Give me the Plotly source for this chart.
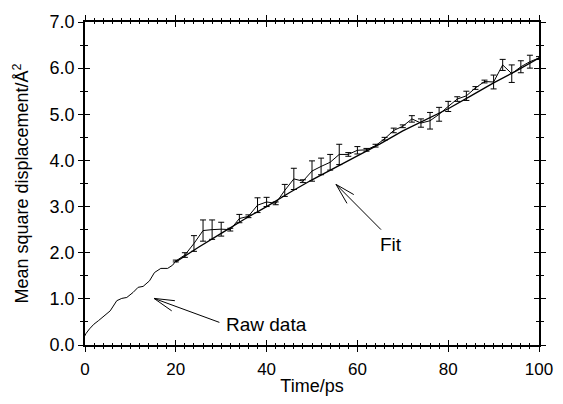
import plotly.graph_objects as go

# raw MSD curve before the fitting window (no error bars)
t_raw = [0, 0.15, 1.0, 1.95, 3.0, 4.1, 5.55, 7.0, 8.1, 9.2, 10.6, 11.7, 12.8,
         14.2, 15.3, 16.7, 18.2, 19.3, 20]
msd_raw = [0.2, 0.24, 0.35, 0.45, 0.53, 0.62, 0.74, 0.96, 1.01, 1.03, 1.14, 1.25,
           1.27, 1.39, 1.57, 1.66, 1.66, 1.73, 1.82]

# raw data inside the fitting window, with error bars
t_err = [20, 22, 24, 26, 28, 30, 32, 34, 36, 38, 40, 42, 44, 46, 48, 50, 52, 54, 56,
         58, 60, 62, 64, 66, 68, 70, 72, 74, 76, 78, 80, 82, 84, 86, 88, 90, 92, 94,
         96, 98, 100]
msd_err = [1.82, 1.95, 2.2, 2.48, 2.5, 2.51, 2.5, 2.74, 2.79, 3.03, 3.1, 3.07, 3.35,
           3.6, 3.55, 3.77, 3.87, 3.96, 4.13, 4.13, 4.22, 4.23, 4.32, 4.47, 4.65,
           4.74, 4.9, 4.81, 4.86, 5.0, 5.17, 5.33, 5.4, 5.57, 5.71, 5.7, 6.07, 5.88,
           6.03, 6.14, 6.22]
err = [0.02, 0.05, 0.17, 0.23, 0.21, 0.15, 0.03, 0.09, 0.03, 0.16, 0.1, 0.03, 0.13,
       0.23, 0.03, 0.22, 0.18, 0.17, 0.22, 0.04, 0.08, 0.03, 0.03, 0.03, 0.05, 0.03,
       0.07, 0.09, 0.18, 0.15, 0.11, 0.05, 0.1, 0.03, 0.03, 0.15, 0.12, 0.19, 0.13,
       0.14, 0.03]

# fitted curve
t_fit = [20, 25, 30, 35, 40, 45, 50, 55, 60, 65, 70, 75, 80, 85, 90, 95, 100]
msd_fit = [1.80, 2.12, 2.42, 2.72, 3.00, 3.30, 3.58, 3.84, 4.10, 4.36, 4.64, 4.88,
           5.12, 5.40, 5.68, 5.94, 6.22]

FONT = 'Liberation Sans, Arial, sans-serif'
LINE = dict(color='black', width=1)

fig = go.Figure()
fig.add_trace(go.Scatter(x=t_raw, y=msd_raw, mode='lines', line=LINE))
fig.add_trace(go.Scatter(x=t_err, y=msd_err, mode='lines', line=LINE,
                         error_y=dict(type='data', array=err, color='black',
                                      thickness=1, width=3)))
fig.add_trace(go.Scatter(x=t_fit, y=msd_fit, mode='lines', line=dict(color='black', width=1.3)))
# dummy trace so the inside-tick overlay axes get drawn
fig.add_trace(go.Scatter(x=[0], y=[0], xaxis='x2', yaxis='y2', mode='markers',
                         marker=dict(opacity=0), hoverinfo='skip'))

axis_common = dict(showline=True, linecolor='black', linewidth=1.5, showgrid=False,
                   zeroline=False, mirror='allticks', tickcolor='black', tickwidth=1,
                   automargin=False)

# the page body adds an 8px margin, so keep the figure inside the window
fig.update_layout(
    width=547, height=388,
    margin=dict(l=77, r=16, t=14, b=51),
    paper_bgcolor='white', plot_bgcolor='white',
    showlegend=False,
    font=dict(family=FONT, size=18, color='black'),
    xaxis=dict(axis_common, range=[0, 100], tickvals=[0, 20, 40, 60, 80, 100],
               ticks='outside', ticklen=5, tickfont=dict(size=17), ticklabelstandoff=3,
               minor=dict(dtick=2, ticks='outside', ticklen=2, tickcolor='black'),
               title=dict(text='Time/ps', standoff=8, font=dict(size=18))),
    yaxis=dict(axis_common, range=[0, 7], dtick=1, tickformat='.1f',
               ticks='outside', ticklen=5,
               minor=dict(dtick=0.5, ticks='outside', ticklen=3, tickcolor='black'),
               title=dict(text='Mean square displacement/Å<sup>2</sup>', standoff=16,
                          font=dict(size=18))),
    xaxis2=dict(axis_common, overlaying='x', range=[0, 100], dtick=20,
                ticks='inside', ticklen=5, showticklabels=False,
                minor=dict(dtick=2, ticks='inside', ticklen=2, tickcolor='black')),
    yaxis2=dict(axis_common, overlaying='y', range=[0, 7], dtick=1,
                ticks='inside', ticklen=5, showticklabels=False,
                minor=dict(dtick=0.5, ticks='inside', ticklen=3, tickcolor='black')),
)

# text labels
fig.add_annotation(x=40, y=0.45, text='Raw data', showarrow=False,
                   font=dict(size=19))
fig.add_annotation(x=67.5, y=2.17, text='Fit', showarrow=False,
                   font=dict(size=19))

# open "V" arrows: shaft plus two barbs (tail, head, barb1, barb2)
arrows = [
    ((29.6, 0.49), (15.2, 1.01), (19.8, 0.96), (19.1, 0.74)),
    ((65.2, 2.50), (55.3, 3.48), (59.2, 3.26), (57.7, 3.07)),
]
for tail, head, b1, b2 in arrows:
    for end in (tail, b1, b2):
        fig.add_shape(type='line', x0=head[0], y0=head[1], x1=end[0], y1=end[1],
                      line=dict(color='black', width=1))

fig.write_html("out.html")
